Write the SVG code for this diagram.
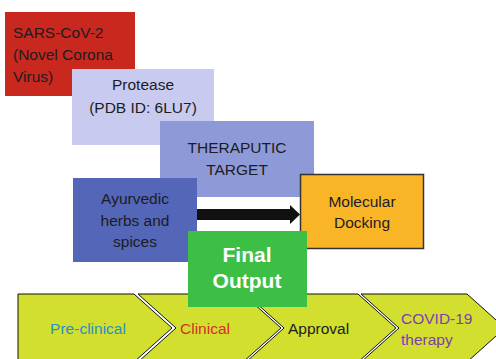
<svg xmlns="http://www.w3.org/2000/svg" width="496" height="359" viewBox="0 0 496 359">
<style>
text{font-family:"Liberation Sans",Arial,sans-serif;font-size:15.5px;fill:#1c1c22}
.c{text-anchor:middle}
.chev{fill:#d3df2f;stroke:#111;stroke-width:1}
.fo{font-weight:bold;font-size:21px;fill:#fff}
</style>
<g id="chevrons">
<g id="preclinical"><polygon class="chev" points="18,294 134,294 172,328 134,362 18,362"/><text x="88" y="334" class="c" style="fill:#2a8fc8">Pre-clinical</text></g>
<g id="clinical"><polygon class="chev" points="138,294 243,294 281,328 243,362 138,362 176,328"/><text x="180" y="334" style="fill:#d2302a">Clinical</text></g>
<g id="approval"><polygon class="chev" points="246,294 358,294 396,328 358,362 246,362 284,328"/><text x="288" y="334">Approval</text></g>
<g id="covid"><polygon class="chev" points="361,294 467,294 505,328 467,362 361,362 399,328"/><text x="401" y="324" style="fill:#7b3fb0">COVID-19</text><text x="401" y="345" style="fill:#7b3fb0">therapy</text></g>
</g>
<g id="sars"><rect x="5" y="12" width="130" height="84" fill="#c9281f"/><text x="13" y="38">SARS-CoV-2</text><text x="13" y="60">(Novel Corona</text><text x="13" y="82">Virus)</text></g>
<g id="protease"><rect x="72" y="69" width="142" height="76" fill="#c8cbef"/><text x="143" y="90" class="c">Protease</text><text x="143" y="113" class="c">(PDB ID: 6LU7)</text></g>
<g id="target"><rect x="160" y="121" width="154" height="76" fill="#8e9ad7"/><text x="237" y="153" class="c">THERAPUTIC</text><text x="237" y="175" class="c">TARGET</text></g>
<g id="ayurvedic"><rect x="73" y="178" width="124" height="84" fill="#5466b8"/><text x="135" y="204" class="c">Ayurvedic</text><text x="135" y="226" class="c">herbs and</text><text x="135" y="247" class="c">spices</text></g>
<g id="connectors"><rect x="197" y="209" width="94" height="11" fill="#111"/><polygon points="290,205 300,214.5 290,224" fill="#111"/></g>
<g id="docking"><rect x="300.5" y="174.5" width="123" height="74" fill="#fab526" stroke="#333" stroke-width="1.5"/><text x="362" y="207" class="c">Molecular</text><text x="362" y="228" class="c">Docking</text></g>
<g id="final"><rect x="188" y="231" width="119" height="76" fill="#3dbe44"/><text x="247" y="262" class="c fo">Final</text><text x="247" y="288" class="c fo">Output</text></g>
</svg>
